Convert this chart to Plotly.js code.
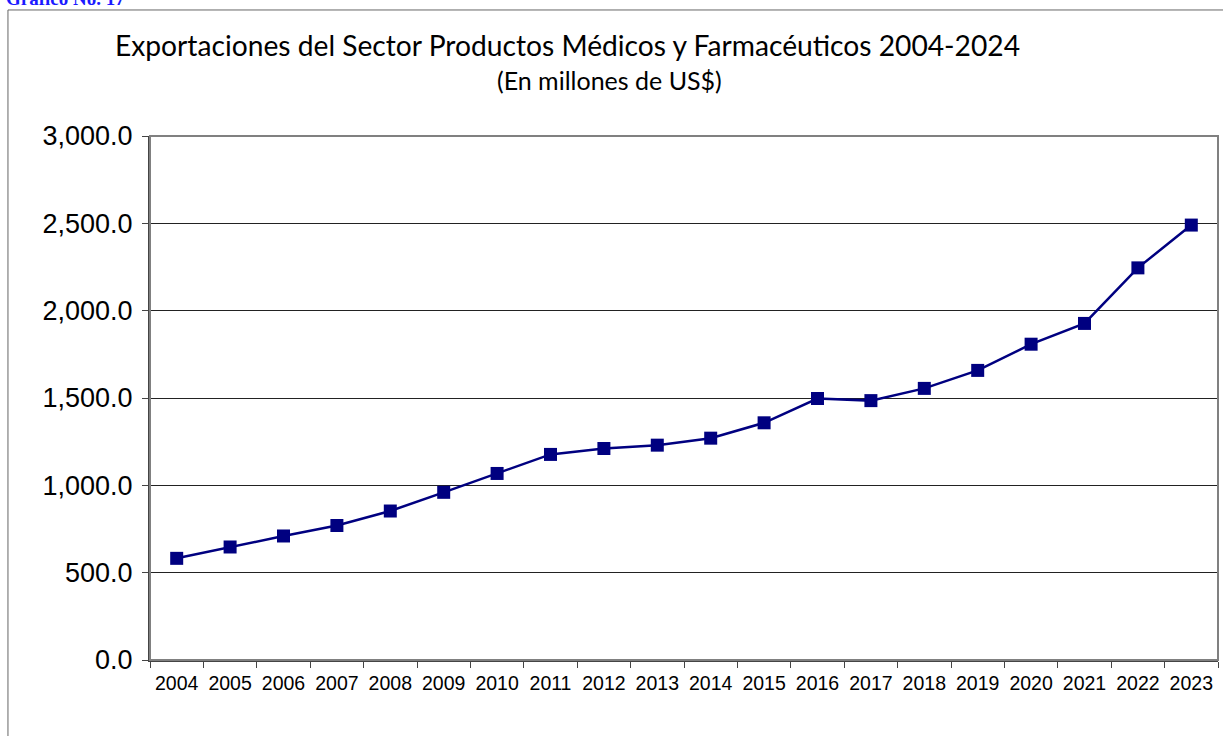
<!DOCTYPE html>
<html>
<head>
<meta charset="utf-8">
<script src="https://cdn.plot.ly/plotly-3.0.1.min.js"></script>
<style>html,body{margin:0;padding:0;background:#fff;}#chart{width:1223px;height:736px;}</style>
</head>
<body>
<div id="chart"></div>
<script>
const years = ["2004","2005","2006","2007","2008","2009","2010","2011","2012","2013","2014","2015","2016","2017","2018","2019","2020","2021","2022","2023"];
const exportsValues = [582, 647, 710, 770, 853, 960, 1068, 1177, 1211, 1230, 1270, 1358, 1497, 1485, 1555, 1658, 1808, 1927, 2245, 2490];
const yTicks = [0, 500, 1000, 1500, 2000, 2500, 3000];
const yTickLabels = ["0.0", "500.0", "1,000.0", "1,500.0", "2,000.0", "2,500.0", "3,000.0"];
const chartTitle = "Exportaciones del Sector Productos Médicos y Farmacéuticos 2004-2024";
const chartSubtitle = "(En millones de US$)";
const figureLabel = "Gráfico No. 17";

const trace = {
  x: years, y: exportsValues, type: "scatter", mode: "lines+markers",
  line: {color: "#000080", width: 2.5},
  marker: {symbol: "square", size: 13, color: "#000080"},
  hoverinfo: "x+y"
};

const layout = {
  width: 1223, height: 736,
  margin: {l: 150, r: 5, t: 136, b: 76},
  paper_bgcolor: "#fff", plot_bgcolor: "#fff",
  showlegend: false,
  xaxis: {
    type: "category", range: [-0.5, 19.5], tickson: "boundaries",
    ticks: "outside", ticklen: 6, tickcolor: "#444", tickwidth: 1, tickangle: 0,
    showgrid: false, showline: true, linecolor: "#444", linewidth: 2, mirror: false,
    tickfont: {family: "Liberation Sans, Arial, sans-serif", size: 19.5, color: "#000"},
    ticklabelstandoff: 5,
    fixedrange: true
  },
  yaxis: {
    range: [0, 3000], tickvals: yTicks, ticktext: yTickLabels,
    ticks: "outside", ticklen: 6, tickcolor: "#444", tickwidth: 1,
    showgrid: true, gridcolor: "#222", gridwidth: 1, zeroline: false,
    showline: true, linecolor: "#444", linewidth: 2,
    tickfont: {family: "Liberation Sans, Arial, sans-serif", size: 27, color: "#000"},
    ticklabelstandoff: 4,
    fixedrange: true
  },
  shapes: [
    {type: "rect", xref: "paper", yref: "paper", x0: 0, x1: 1, y0: 0, y1: 1, line: {color: "#808080", width: 2}, layer: "above"},
    {type: "rect", xref: "paper", yref: "paper", x0: -0.133, x1: 1.01, y0: -0.2, y1: 1.2405, line: {color: "#666", width: 1}, layer: "below"}
  ],
  annotations: [
    {text: chartTitle, xref: "paper", yref: "paper", x: (567-150)/1068, y: (660-45)/524, xanchor: "center", yanchor: "middle", showarrow: false,
     font: {family: "Lato, 'Open Sans', sans-serif", size: 28.2, color: "#000"}},
    {text: chartSubtitle, xref: "paper", yref: "paper", x: (609-150)/1068, y: (660-80)/524, xanchor: "center", yanchor: "middle", showarrow: false,
     font: {family: "Lato, 'Open Sans', sans-serif", size: 25, color: "#000"}},
    {text: "<b>" + figureLabel + "</b>", xref: "paper", yref: "paper", x: (4-150)/1068, y: (660-11)/524, xanchor: "left", yanchor: "bottom", showarrow: false,
     font: {family: "Liberation Serif, Times New Roman, serif", size: 19, color: "#1a1aff"}}
  ]
};

Plotly.newPlot("chart", [trace], layout, {displayModeBar: false, staticPlot: true});
</script>
</body>
</html>
